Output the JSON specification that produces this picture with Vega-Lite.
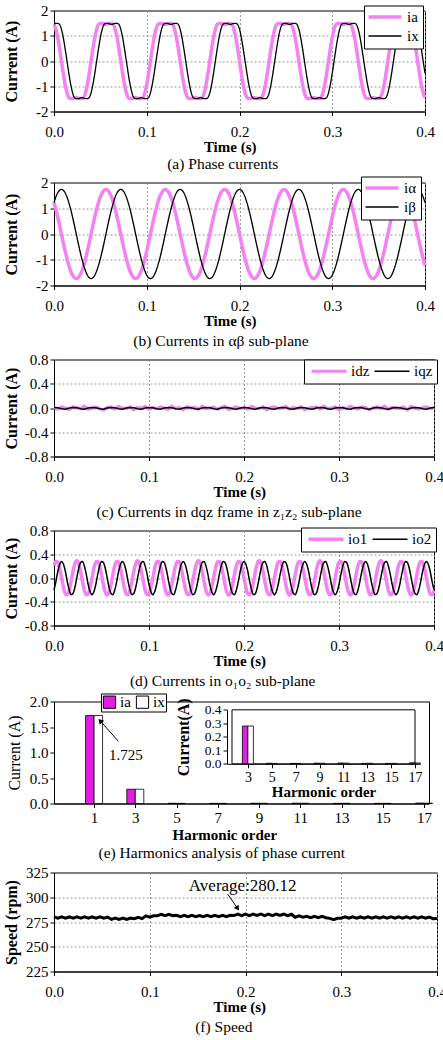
{
"$schema":"https://vega.github.io/schema/vega-lite/v6.json",
"background":"white",
"padding":{"left":2,"top":2.5,"right":0,"bottom":0},
"config":{
 "font":"Liberation Serif",
 "view":{"stroke":"black","strokeWidth":1},
 "axis":{"labelFont":"Liberation Serif","labelFontSize":15,"labelColor":"black","titleFont":"Liberation Serif","titleFontSize":15,"titleFontWeight":"bold","titleColor":"black","domainColor":"black","tickColor":"black","tickSize":4,"gridColor":"#808080","gridDash":[2,2],"gridWidth":0.8,"labelPadding":2,"labelFlush":false,"labelOverlap":false},
 "axisX":{"labelPadding":9,"titlePadding":0},
 "axisY":{"titleBaseline":"middle","titleFontSize":16},
 "legend":{"orient":"none","strokeColor":"black","fillColor":"white","padding":4,"labelFont":"Liberation Serif","labelFontSize":15,"labelColor":"black","symbolType":"M-3.3,0H3.3","symbolSize":100,"symbolOffset":9.5,"labelOffset":14.5,"rowPadding":3,"columnPadding":1,"cornerRadius":0},
 "title":{"orient":"bottom","anchor":"middle","font":"Liberation Serif","fontSize":15.5,"fontWeight":"normal","color":"black","offset":5}
},
"datasets":{
"w":[
{"t":0,"ia":1.45,"ix":1.47,"iα":1.22,"iβ":1.22,"io1":0.21,"io2":-0.2},
{"t":0.002,"ia":1.26,"ix":1.49,"iα":0.96,"iβ":1.44,"io1":0.28,"io2":-0.06},
{"t":0.004,"ia":0.93,"ix":1.49,"iα":0.66,"iβ":1.6,"io1":0.27,"io2":0.11},
{"t":0.006,"ia":0.49,"ix":1.45,"iα":0.34,"iβ":1.7,"io1":0.16,"io2":0.23},
{"t":0.008,"ia":0,"ix":1.26,"iα":0,"iβ":1.73,"io1":0,"io2":0.28},
{"t":0.01,"ia":-0.49,"ix":0.93,"iα":-0.34,"iβ":1.7,"io1":-0.16,"io2":0.23},
{"t":0.012,"ia":-0.93,"ix":0.49,"iα":-0.66,"iβ":1.6,"io1":-0.27,"io2":0.11},
{"t":0.014,"ia":-1.26,"ix":0,"iα":-0.96,"iβ":1.44,"io1":-0.28,"io2":-0.06},
{"t":0.016,"ia":-1.45,"ix":-0.49,"iα":-1.22,"iβ":1.22,"io1":-0.21,"io2":-0.2},
{"t":0.018,"ia":-1.49,"ix":-0.93,"iα":-1.44,"iβ":0.96,"io1":-0.06,"io2":-0.28},
{"t":0.02,"ia":-1.49,"ix":-1.26,"iα":-1.6,"iβ":0.66,"io1":0.11,"io2":-0.26},
{"t":0.022,"ia":-1.47,"ix":-1.45,"iα":-1.7,"iβ":0.34,"io1":0.24,"io2":-0.16},
{"t":0.024,"ia":-1.45,"ix":-1.49,"iα":-1.73,"iβ":0,"io1":0.29,"io2":0},
{"t":0.026,"ia":-1.47,"ix":-1.49,"iα":-1.7,"iβ":-0.34,"io1":0.24,"io2":0.16},
{"t":0.028,"ia":-1.49,"ix":-1.47,"iα":-1.6,"iβ":-0.66,"io1":0.11,"io2":0.26},
{"t":0.03,"ia":-1.49,"ix":-1.45,"iα":-1.44,"iβ":-0.96,"io1":-0.06,"io2":0.28},
{"t":0.032,"ia":-1.45,"ix":-1.47,"iα":-1.22,"iβ":-1.22,"io1":-0.21,"io2":0.2},
{"t":0.034,"ia":-1.26,"ix":-1.49,"iα":-0.96,"iβ":-1.44,"io1":-0.28,"io2":0.06},
{"t":0.036,"ia":-0.93,"ix":-1.49,"iα":-0.66,"iβ":-1.6,"io1":-0.27,"io2":-0.11},
{"t":0.038,"ia":-0.49,"ix":-1.45,"iα":-0.34,"iβ":-1.7,"io1":-0.16,"io2":-0.23},
{"t":0.04,"ia":0,"ix":-1.26,"iα":0,"iβ":-1.73,"io1":0,"io2":-0.28},
{"t":0.042,"ia":0.49,"ix":-0.93,"iα":0.34,"iβ":-1.7,"io1":0.16,"io2":-0.23},
{"t":0.044,"ia":0.93,"ix":-0.49,"iα":0.66,"iβ":-1.6,"io1":0.27,"io2":-0.11},
{"t":0.046,"ia":1.26,"ix":0,"iα":0.96,"iβ":-1.44,"io1":0.28,"io2":0.06},
{"t":0.048,"ia":1.45,"ix":0.49,"iα":1.22,"iβ":-1.22,"io1":0.21,"io2":0.2},
{"t":0.05,"ia":1.49,"ix":0.93,"iα":1.44,"iβ":-0.96,"io1":0.06,"io2":0.28},
{"t":0.052,"ia":1.49,"ix":1.26,"iα":1.6,"iβ":-0.66,"io1":-0.11,"io2":0.26},
{"t":0.054,"ia":1.47,"ix":1.45,"iα":1.7,"iβ":-0.34,"io1":-0.24,"io2":0.16},
{"t":0.056,"ia":1.45,"ix":1.49,"iα":1.73,"iβ":0,"io1":-0.29,"io2":0},
{"t":0.058,"ia":1.47,"ix":1.49,"iα":1.7,"iβ":0.34,"io1":-0.24,"io2":-0.16},
{"t":0.06,"ia":1.49,"ix":1.47,"iα":1.6,"iβ":0.66,"io1":-0.11,"io2":-0.26},
{"t":0.062,"ia":1.49,"ix":1.45,"iα":1.44,"iβ":0.96,"io1":0.06,"io2":-0.28},
{"t":0.064,"ia":1.45,"ix":1.47,"iα":1.22,"iβ":1.22,"io1":0.21,"io2":-0.2},
{"t":0.066,"ia":1.26,"ix":1.49,"iα":0.96,"iβ":1.44,"io1":0.28,"io2":-0.06},
{"t":0.068,"ia":0.93,"ix":1.49,"iα":0.66,"iβ":1.6,"io1":0.27,"io2":0.11},
{"t":0.07,"ia":0.49,"ix":1.45,"iα":0.34,"iβ":1.7,"io1":0.16,"io2":0.23},
{"t":0.072,"ia":0,"ix":1.26,"iα":0,"iβ":1.73,"io1":0,"io2":0.28},
{"t":0.074,"ia":-0.49,"ix":0.93,"iα":-0.34,"iβ":1.7,"io1":-0.16,"io2":0.23},
{"t":0.076,"ia":-0.93,"ix":0.49,"iα":-0.66,"iβ":1.6,"io1":-0.27,"io2":0.11},
{"t":0.078,"ia":-1.26,"ix":0,"iα":-0.96,"iβ":1.44,"io1":-0.28,"io2":-0.06},
{"t":0.08,"ia":-1.45,"ix":-0.49,"iα":-1.22,"iβ":1.22,"io1":-0.21,"io2":-0.2},
{"t":0.082,"ia":-1.49,"ix":-0.93,"iα":-1.44,"iβ":0.96,"io1":-0.06,"io2":-0.28},
{"t":0.084,"ia":-1.49,"ix":-1.26,"iα":-1.6,"iβ":0.66,"io1":0.11,"io2":-0.26},
{"t":0.086,"ia":-1.47,"ix":-1.45,"iα":-1.7,"iβ":0.34,"io1":0.24,"io2":-0.16},
{"t":0.088,"ia":-1.45,"ix":-1.49,"iα":-1.73,"iβ":0,"io1":0.29,"io2":0},
{"t":0.09,"ia":-1.47,"ix":-1.49,"iα":-1.7,"iβ":-0.34,"io1":0.24,"io2":0.16},
{"t":0.092,"ia":-1.49,"ix":-1.47,"iα":-1.6,"iβ":-0.66,"io1":0.11,"io2":0.26},
{"t":0.094,"ia":-1.49,"ix":-1.45,"iα":-1.44,"iβ":-0.96,"io1":-0.06,"io2":0.28},
{"t":0.096,"ia":-1.45,"ix":-1.47,"iα":-1.22,"iβ":-1.22,"io1":-0.21,"io2":0.2},
{"t":0.098,"ia":-1.26,"ix":-1.49,"iα":-0.96,"iβ":-1.44,"io1":-0.28,"io2":0.06},
{"t":0.1,"ia":-0.93,"ix":-1.49,"iα":-0.66,"iβ":-1.6,"io1":-0.27,"io2":-0.11},
{"t":0.102,"ia":-0.49,"ix":-1.45,"iα":-0.34,"iβ":-1.7,"io1":-0.16,"io2":-0.23},
{"t":0.104,"ia":0,"ix":-1.26,"iα":0,"iβ":-1.73,"io1":0,"io2":-0.28},
{"t":0.106,"ia":0.49,"ix":-0.93,"iα":0.34,"iβ":-1.7,"io1":0.16,"io2":-0.23},
{"t":0.108,"ia":0.93,"ix":-0.49,"iα":0.66,"iβ":-1.6,"io1":0.27,"io2":-0.11},
{"t":0.11,"ia":1.26,"ix":0,"iα":0.96,"iβ":-1.44,"io1":0.28,"io2":0.06},
{"t":0.112,"ia":1.45,"ix":0.49,"iα":1.22,"iβ":-1.22,"io1":0.21,"io2":0.2},
{"t":0.114,"ia":1.49,"ix":0.93,"iα":1.44,"iβ":-0.96,"io1":0.06,"io2":0.28},
{"t":0.116,"ia":1.49,"ix":1.26,"iα":1.6,"iβ":-0.66,"io1":-0.11,"io2":0.26},
{"t":0.118,"ia":1.47,"ix":1.45,"iα":1.7,"iβ":-0.34,"io1":-0.24,"io2":0.16},
{"t":0.12,"ia":1.45,"ix":1.49,"iα":1.73,"iβ":0,"io1":-0.29,"io2":0},
{"t":0.122,"ia":1.47,"ix":1.49,"iα":1.7,"iβ":0.34,"io1":-0.24,"io2":-0.16},
{"t":0.124,"ia":1.49,"ix":1.47,"iα":1.6,"iβ":0.66,"io1":-0.11,"io2":-0.26},
{"t":0.126,"ia":1.49,"ix":1.45,"iα":1.44,"iβ":0.96,"io1":0.06,"io2":-0.28},
{"t":0.128,"ia":1.45,"ix":1.47,"iα":1.22,"iβ":1.22,"io1":0.21,"io2":-0.2},
{"t":0.13,"ia":1.26,"ix":1.49,"iα":0.96,"iβ":1.44,"io1":0.28,"io2":-0.06},
{"t":0.132,"ia":0.93,"ix":1.49,"iα":0.66,"iβ":1.6,"io1":0.27,"io2":0.11},
{"t":0.134,"ia":0.49,"ix":1.45,"iα":0.34,"iβ":1.7,"io1":0.16,"io2":0.23},
{"t":0.136,"ia":0,"ix":1.26,"iα":0,"iβ":1.73,"io1":0,"io2":0.28},
{"t":0.138,"ia":-0.49,"ix":0.93,"iα":-0.34,"iβ":1.7,"io1":-0.16,"io2":0.23},
{"t":0.14,"ia":-0.93,"ix":0.49,"iα":-0.66,"iβ":1.6,"io1":-0.27,"io2":0.11},
{"t":0.142,"ia":-1.26,"ix":0,"iα":-0.96,"iβ":1.44,"io1":-0.28,"io2":-0.06},
{"t":0.144,"ia":-1.45,"ix":-0.49,"iα":-1.22,"iβ":1.22,"io1":-0.21,"io2":-0.2},
{"t":0.146,"ia":-1.49,"ix":-0.93,"iα":-1.44,"iβ":0.96,"io1":-0.06,"io2":-0.28},
{"t":0.148,"ia":-1.49,"ix":-1.26,"iα":-1.6,"iβ":0.66,"io1":0.11,"io2":-0.26},
{"t":0.15,"ia":-1.47,"ix":-1.45,"iα":-1.7,"iβ":0.34,"io1":0.24,"io2":-0.16},
{"t":0.152,"ia":-1.45,"ix":-1.49,"iα":-1.73,"iβ":0,"io1":0.29,"io2":0},
{"t":0.154,"ia":-1.47,"ix":-1.49,"iα":-1.7,"iβ":-0.34,"io1":0.24,"io2":0.16},
{"t":0.156,"ia":-1.49,"ix":-1.47,"iα":-1.6,"iβ":-0.66,"io1":0.11,"io2":0.26},
{"t":0.158,"ia":-1.49,"ix":-1.45,"iα":-1.44,"iβ":-0.96,"io1":-0.06,"io2":0.28},
{"t":0.16,"ia":-1.45,"ix":-1.47,"iα":-1.22,"iβ":-1.22,"io1":-0.21,"io2":0.2},
{"t":0.162,"ia":-1.26,"ix":-1.49,"iα":-0.96,"iβ":-1.44,"io1":-0.28,"io2":0.06},
{"t":0.164,"ia":-0.93,"ix":-1.49,"iα":-0.66,"iβ":-1.6,"io1":-0.27,"io2":-0.11},
{"t":0.166,"ia":-0.49,"ix":-1.45,"iα":-0.34,"iβ":-1.7,"io1":-0.16,"io2":-0.23},
{"t":0.168,"ia":0,"ix":-1.26,"iα":0,"iβ":-1.73,"io1":0,"io2":-0.28},
{"t":0.17,"ia":0.49,"ix":-0.93,"iα":0.34,"iβ":-1.7,"io1":0.16,"io2":-0.23},
{"t":0.172,"ia":0.93,"ix":-0.49,"iα":0.66,"iβ":-1.6,"io1":0.27,"io2":-0.11},
{"t":0.174,"ia":1.26,"ix":0,"iα":0.96,"iβ":-1.44,"io1":0.28,"io2":0.06},
{"t":0.176,"ia":1.45,"ix":0.49,"iα":1.22,"iβ":-1.22,"io1":0.21,"io2":0.2},
{"t":0.178,"ia":1.49,"ix":0.93,"iα":1.44,"iβ":-0.96,"io1":0.06,"io2":0.28},
{"t":0.18,"ia":1.49,"ix":1.26,"iα":1.6,"iβ":-0.66,"io1":-0.11,"io2":0.26},
{"t":0.182,"ia":1.47,"ix":1.45,"iα":1.7,"iβ":-0.34,"io1":-0.24,"io2":0.16},
{"t":0.184,"ia":1.45,"ix":1.49,"iα":1.73,"iβ":0,"io1":-0.29,"io2":0},
{"t":0.186,"ia":1.47,"ix":1.49,"iα":1.7,"iβ":0.34,"io1":-0.24,"io2":-0.16},
{"t":0.188,"ia":1.49,"ix":1.47,"iα":1.6,"iβ":0.66,"io1":-0.11,"io2":-0.26},
{"t":0.19,"ia":1.49,"ix":1.45,"iα":1.44,"iβ":0.96,"io1":0.06,"io2":-0.28},
{"t":0.192,"ia":1.45,"ix":1.47,"iα":1.22,"iβ":1.22,"io1":0.21,"io2":-0.2},
{"t":0.194,"ia":1.26,"ix":1.49,"iα":0.96,"iβ":1.44,"io1":0.28,"io2":-0.06},
{"t":0.196,"ia":0.93,"ix":1.49,"iα":0.66,"iβ":1.6,"io1":0.27,"io2":0.11},
{"t":0.198,"ia":0.49,"ix":1.45,"iα":0.34,"iβ":1.7,"io1":0.16,"io2":0.23},
{"t":0.2,"ia":0,"ix":1.26,"iα":0,"iβ":1.73,"io1":0,"io2":0.28},
{"t":0.202,"ia":-0.49,"ix":0.93,"iα":-0.34,"iβ":1.7,"io1":-0.16,"io2":0.23},
{"t":0.204,"ia":-0.93,"ix":0.49,"iα":-0.66,"iβ":1.6,"io1":-0.27,"io2":0.11},
{"t":0.206,"ia":-1.26,"ix":0,"iα":-0.96,"iβ":1.44,"io1":-0.28,"io2":-0.06},
{"t":0.208,"ia":-1.45,"ix":-0.49,"iα":-1.22,"iβ":1.22,"io1":-0.21,"io2":-0.2},
{"t":0.21,"ia":-1.49,"ix":-0.93,"iα":-1.44,"iβ":0.96,"io1":-0.06,"io2":-0.28},
{"t":0.212,"ia":-1.49,"ix":-1.26,"iα":-1.6,"iβ":0.66,"io1":0.11,"io2":-0.26},
{"t":0.214,"ia":-1.47,"ix":-1.45,"iα":-1.7,"iβ":0.34,"io1":0.24,"io2":-0.16},
{"t":0.216,"ia":-1.45,"ix":-1.49,"iα":-1.73,"iβ":0,"io1":0.29,"io2":0},
{"t":0.218,"ia":-1.47,"ix":-1.49,"iα":-1.7,"iβ":-0.34,"io1":0.24,"io2":0.16},
{"t":0.22,"ia":-1.49,"ix":-1.47,"iα":-1.6,"iβ":-0.66,"io1":0.11,"io2":0.26},
{"t":0.222,"ia":-1.49,"ix":-1.45,"iα":-1.44,"iβ":-0.96,"io1":-0.06,"io2":0.28},
{"t":0.224,"ia":-1.45,"ix":-1.47,"iα":-1.22,"iβ":-1.22,"io1":-0.21,"io2":0.2},
{"t":0.226,"ia":-1.26,"ix":-1.49,"iα":-0.96,"iβ":-1.44,"io1":-0.28,"io2":0.06},
{"t":0.228,"ia":-0.93,"ix":-1.49,"iα":-0.66,"iβ":-1.6,"io1":-0.27,"io2":-0.11},
{"t":0.23,"ia":-0.49,"ix":-1.45,"iα":-0.34,"iβ":-1.7,"io1":-0.16,"io2":-0.23},
{"t":0.232,"ia":0,"ix":-1.26,"iα":0,"iβ":-1.73,"io1":0,"io2":-0.28},
{"t":0.234,"ia":0.49,"ix":-0.93,"iα":0.34,"iβ":-1.7,"io1":0.16,"io2":-0.23},
{"t":0.236,"ia":0.93,"ix":-0.49,"iα":0.66,"iβ":-1.6,"io1":0.27,"io2":-0.11},
{"t":0.238,"ia":1.26,"ix":0,"iα":0.96,"iβ":-1.44,"io1":0.28,"io2":0.06},
{"t":0.24,"ia":1.45,"ix":0.49,"iα":1.22,"iβ":-1.22,"io1":0.21,"io2":0.2},
{"t":0.242,"ia":1.49,"ix":0.93,"iα":1.44,"iβ":-0.96,"io1":0.06,"io2":0.28},
{"t":0.244,"ia":1.49,"ix":1.26,"iα":1.6,"iβ":-0.66,"io1":-0.11,"io2":0.26},
{"t":0.246,"ia":1.47,"ix":1.45,"iα":1.7,"iβ":-0.34,"io1":-0.24,"io2":0.16},
{"t":0.248,"ia":1.45,"ix":1.49,"iα":1.73,"iβ":0,"io1":-0.29,"io2":0},
{"t":0.25,"ia":1.47,"ix":1.49,"iα":1.7,"iβ":0.34,"io1":-0.24,"io2":-0.16},
{"t":0.252,"ia":1.49,"ix":1.47,"iα":1.6,"iβ":0.66,"io1":-0.11,"io2":-0.26},
{"t":0.254,"ia":1.49,"ix":1.45,"iα":1.44,"iβ":0.96,"io1":0.06,"io2":-0.28},
{"t":0.256,"ia":1.45,"ix":1.47,"iα":1.22,"iβ":1.22,"io1":0.21,"io2":-0.2},
{"t":0.258,"ia":1.26,"ix":1.49,"iα":0.96,"iβ":1.44,"io1":0.28,"io2":-0.06},
{"t":0.26,"ia":0.93,"ix":1.49,"iα":0.66,"iβ":1.6,"io1":0.27,"io2":0.11},
{"t":0.262,"ia":0.49,"ix":1.45,"iα":0.34,"iβ":1.7,"io1":0.16,"io2":0.23},
{"t":0.264,"ia":0,"ix":1.26,"iα":0,"iβ":1.73,"io1":0,"io2":0.28},
{"t":0.266,"ia":-0.49,"ix":0.93,"iα":-0.34,"iβ":1.7,"io1":-0.16,"io2":0.23},
{"t":0.268,"ia":-0.93,"ix":0.49,"iα":-0.66,"iβ":1.6,"io1":-0.27,"io2":0.11},
{"t":0.27,"ia":-1.26,"ix":0,"iα":-0.96,"iβ":1.44,"io1":-0.28,"io2":-0.06},
{"t":0.272,"ia":-1.45,"ix":-0.49,"iα":-1.22,"iβ":1.22,"io1":-0.21,"io2":-0.2},
{"t":0.274,"ia":-1.49,"ix":-0.93,"iα":-1.44,"iβ":0.96,"io1":-0.06,"io2":-0.28},
{"t":0.276,"ia":-1.49,"ix":-1.26,"iα":-1.6,"iβ":0.66,"io1":0.11,"io2":-0.26},
{"t":0.278,"ia":-1.47,"ix":-1.45,"iα":-1.7,"iβ":0.34,"io1":0.24,"io2":-0.16},
{"t":0.28,"ia":-1.45,"ix":-1.49,"iα":-1.73,"iβ":0,"io1":0.29,"io2":0},
{"t":0.282,"ia":-1.47,"ix":-1.49,"iα":-1.7,"iβ":-0.34,"io1":0.24,"io2":0.16},
{"t":0.284,"ia":-1.49,"ix":-1.47,"iα":-1.6,"iβ":-0.66,"io1":0.11,"io2":0.26},
{"t":0.286,"ia":-1.49,"ix":-1.45,"iα":-1.44,"iβ":-0.96,"io1":-0.06,"io2":0.28},
{"t":0.288,"ia":-1.45,"ix":-1.47,"iα":-1.22,"iβ":-1.22,"io1":-0.21,"io2":0.2},
{"t":0.29,"ia":-1.26,"ix":-1.49,"iα":-0.96,"iβ":-1.44,"io1":-0.28,"io2":0.06},
{"t":0.292,"ia":-0.93,"ix":-1.49,"iα":-0.66,"iβ":-1.6,"io1":-0.27,"io2":-0.11},
{"t":0.294,"ia":-0.49,"ix":-1.45,"iα":-0.34,"iβ":-1.7,"io1":-0.16,"io2":-0.23},
{"t":0.296,"ia":0,"ix":-1.26,"iα":0,"iβ":-1.73,"io1":0,"io2":-0.28},
{"t":0.298,"ia":0.49,"ix":-0.93,"iα":0.34,"iβ":-1.7,"io1":0.16,"io2":-0.23},
{"t":0.3,"ia":0.93,"ix":-0.49,"iα":0.66,"iβ":-1.6,"io1":0.27,"io2":-0.11},
{"t":0.302,"ia":1.26,"ix":0,"iα":0.96,"iβ":-1.44,"io1":0.28,"io2":0.06},
{"t":0.304,"ia":1.45,"ix":0.49,"iα":1.22,"iβ":-1.22,"io1":0.21,"io2":0.2},
{"t":0.306,"ia":1.49,"ix":0.93,"iα":1.44,"iβ":-0.96,"io1":0.06,"io2":0.28},
{"t":0.308,"ia":1.49,"ix":1.26,"iα":1.6,"iβ":-0.66,"io1":-0.11,"io2":0.26},
{"t":0.31,"ia":1.47,"ix":1.45,"iα":1.7,"iβ":-0.34,"io1":-0.24,"io2":0.16},
{"t":0.312,"ia":1.45,"ix":1.49,"iα":1.73,"iβ":0,"io1":-0.29,"io2":0},
{"t":0.314,"ia":1.47,"ix":1.49,"iα":1.7,"iβ":0.34,"io1":-0.24,"io2":-0.16},
{"t":0.316,"ia":1.49,"ix":1.47,"iα":1.6,"iβ":0.66,"io1":-0.11,"io2":-0.26},
{"t":0.318,"ia":1.49,"ix":1.45,"iα":1.44,"iβ":0.96,"io1":0.06,"io2":-0.28},
{"t":0.32,"ia":1.45,"ix":1.47,"iα":1.22,"iβ":1.22,"io1":0.21,"io2":-0.2},
{"t":0.322,"ia":1.26,"ix":1.49,"iα":0.96,"iβ":1.44,"io1":0.28,"io2":-0.06},
{"t":0.324,"ia":0.93,"ix":1.49,"iα":0.66,"iβ":1.6,"io1":0.27,"io2":0.11},
{"t":0.326,"ia":0.49,"ix":1.45,"iα":0.34,"iβ":1.7,"io1":0.16,"io2":0.23},
{"t":0.328,"ia":0,"ix":1.26,"iα":0,"iβ":1.73,"io1":0,"io2":0.28},
{"t":0.33,"ia":-0.49,"ix":0.93,"iα":-0.34,"iβ":1.7,"io1":-0.16,"io2":0.23},
{"t":0.332,"ia":-0.93,"ix":0.49,"iα":-0.66,"iβ":1.6,"io1":-0.27,"io2":0.11},
{"t":0.334,"ia":-1.26,"ix":0,"iα":-0.96,"iβ":1.44,"io1":-0.28,"io2":-0.06},
{"t":0.336,"ia":-1.45,"ix":-0.49,"iα":-1.22,"iβ":1.22,"io1":-0.21,"io2":-0.2},
{"t":0.338,"ia":-1.49,"ix":-0.93,"iα":-1.44,"iβ":0.96,"io1":-0.06,"io2":-0.28},
{"t":0.34,"ia":-1.49,"ix":-1.26,"iα":-1.6,"iβ":0.66,"io1":0.11,"io2":-0.26},
{"t":0.342,"ia":-1.47,"ix":-1.45,"iα":-1.7,"iβ":0.34,"io1":0.24,"io2":-0.16},
{"t":0.344,"ia":-1.45,"ix":-1.49,"iα":-1.73,"iβ":0,"io1":0.29,"io2":0},
{"t":0.346,"ia":-1.47,"ix":-1.49,"iα":-1.7,"iβ":-0.34,"io1":0.24,"io2":0.16},
{"t":0.348,"ia":-1.49,"ix":-1.47,"iα":-1.6,"iβ":-0.66,"io1":0.11,"io2":0.26},
{"t":0.35,"ia":-1.49,"ix":-1.45,"iα":-1.44,"iβ":-0.96,"io1":-0.06,"io2":0.28},
{"t":0.352,"ia":-1.45,"ix":-1.47,"iα":-1.22,"iβ":-1.22,"io1":-0.21,"io2":0.2},
{"t":0.354,"ia":-1.26,"ix":-1.49,"iα":-0.96,"iβ":-1.44,"io1":-0.28,"io2":0.06},
{"t":0.356,"ia":-0.93,"ix":-1.49,"iα":-0.66,"iβ":-1.6,"io1":-0.27,"io2":-0.11},
{"t":0.358,"ia":-0.49,"ix":-1.45,"iα":-0.34,"iβ":-1.7,"io1":-0.16,"io2":-0.23},
{"t":0.36,"ia":0,"ix":-1.26,"iα":0,"iβ":-1.73,"io1":0,"io2":-0.28},
{"t":0.362,"ia":0.49,"ix":-0.93,"iα":0.34,"iβ":-1.7,"io1":0.16,"io2":-0.23},
{"t":0.364,"ia":0.93,"ix":-0.49,"iα":0.66,"iβ":-1.6,"io1":0.27,"io2":-0.11},
{"t":0.366,"ia":1.26,"ix":0,"iα":0.96,"iβ":-1.44,"io1":0.28,"io2":0.06},
{"t":0.368,"ia":1.45,"ix":0.49,"iα":1.22,"iβ":-1.22,"io1":0.21,"io2":0.2},
{"t":0.37,"ia":1.49,"ix":0.93,"iα":1.44,"iβ":-0.96,"io1":0.06,"io2":0.28},
{"t":0.372,"ia":1.49,"ix":1.26,"iα":1.6,"iβ":-0.66,"io1":-0.11,"io2":0.26},
{"t":0.374,"ia":1.47,"ix":1.45,"iα":1.7,"iβ":-0.34,"io1":-0.24,"io2":0.16},
{"t":0.376,"ia":1.45,"ix":1.49,"iα":1.73,"iβ":0,"io1":-0.29,"io2":0},
{"t":0.378,"ia":1.47,"ix":1.49,"iα":1.7,"iβ":0.34,"io1":-0.24,"io2":-0.16},
{"t":0.38,"ia":1.49,"ix":1.47,"iα":1.6,"iβ":0.66,"io1":-0.11,"io2":-0.26},
{"t":0.382,"ia":1.49,"ix":1.45,"iα":1.44,"iβ":0.96,"io1":0.06,"io2":-0.28},
{"t":0.384,"ia":1.45,"ix":1.47,"iα":1.22,"iβ":1.22,"io1":0.21,"io2":-0.2},
{"t":0.386,"ia":1.26,"ix":1.49,"iα":0.96,"iβ":1.44,"io1":0.28,"io2":-0.06},
{"t":0.388,"ia":0.93,"ix":1.49,"iα":0.66,"iβ":1.6,"io1":0.27,"io2":0.11},
{"t":0.39,"ia":0.49,"ix":1.45,"iα":0.34,"iβ":1.7,"io1":0.16,"io2":0.23},
{"t":0.392,"ia":0,"ix":1.26,"iα":0,"iβ":1.73,"io1":0,"io2":0.28},
{"t":0.394,"ia":-0.49,"ix":0.93,"iα":-0.34,"iβ":1.7,"io1":-0.16,"io2":0.23},
{"t":0.396,"ia":-0.93,"ix":0.49,"iα":-0.66,"iβ":1.6,"io1":-0.27,"io2":0.11},
{"t":0.398,"ia":-1.26,"ix":0,"iα":-0.96,"iβ":1.44,"io1":-0.28,"io2":-0.06},
{"t":0.4,"ia":-1.45,"ix":-0.49,"iα":-1.22,"iβ":1.22,"io1":-0.21,"io2":-0.2}
],
"cf":[
{"t":0,"idz":0.01,"iqz":0.01,"sp":280.2},
{"t":0.004,"idz":-0.02,"iqz":0.004,"sp":278.8},
{"t":0.008,"idz":0.02,"iqz":-0.012,"sp":280.2},
{"t":0.012,"idz":0,"iqz":-0.02,"sp":278.9},
{"t":0.016,"idz":-0.03,"iqz":0,"sp":280.1},
{"t":0.02,"idz":0.02,"iqz":0.01,"sp":278.8},
{"t":0.024,"idz":0.01,"iqz":0.004,"sp":280.3},
{"t":0.028,"idz":-0.01,"iqz":-0.012,"sp":278.9},
{"t":0.032,"idz":0.03,"iqz":-0.02,"sp":280.2},
{"t":0.036,"idz":-0.02,"iqz":0,"sp":278.8},
{"t":0.04,"idz":0,"iqz":0.01,"sp":280.1},
{"t":0.044,"idz":0.02,"iqz":0.004,"sp":278.9},
{"t":0.048,"idz":-0.01,"iqz":-0.012,"sp":280.2},
{"t":0.052,"idz":-0.03,"iqz":-0.02,"sp":278.8},
{"t":0.056,"idz":0.01,"iqz":0,"sp":280},
{"t":0.06,"idz":0.02,"iqz":0.01,"sp":277.6},
{"t":0.064,"idz":-0.02,"iqz":0.004,"sp":278.9},
{"t":0.068,"idz":0.03,"iqz":-0.012,"sp":277.5},
{"t":0.072,"idz":0,"iqz":-0.02,"sp":278.9},
{"t":0.076,"idz":-0.01,"iqz":0,"sp":277.6},
{"t":0.08,"idz":0.02,"iqz":0.01,"sp":278.9},
{"t":0.084,"idz":-0.03,"iqz":0.004,"sp":278.4},
{"t":0.088,"idz":0.01,"iqz":-0.012,"sp":279.7},
{"t":0.092,"idz":0,"iqz":-0.02,"sp":278.4},
{"t":0.096,"idz":0.03,"iqz":0,"sp":281.2},
{"t":0.1,"idz":-0.02,"iqz":0.01,"sp":279.8},
{"t":0.104,"idz":0.01,"iqz":0.004,"sp":281.2},
{"t":0.108,"idz":-0.01,"iqz":-0.012,"sp":281.3},
{"t":0.112,"idz":0.02,"iqz":-0.02,"sp":282.7},
{"t":0.116,"idz":0,"iqz":0,"sp":281.3},
{"t":0.12,"idz":-0.02,"iqz":0.01,"sp":282.7},
{"t":0.124,"idz":0.03,"iqz":0.004,"sp":281.3},
{"t":0.128,"idz":-0.01,"iqz":-0.012,"sp":281.7},
{"t":0.132,"idz":0.01,"iqz":-0.02,"sp":280.3},
{"t":0.136,"idz":-0.03,"iqz":0,"sp":281.7},
{"t":0.14,"idz":0.02,"iqz":0.01,"sp":280.3},
{"t":0.144,"idz":0,"iqz":0.004,"sp":281.7},
{"t":0.148,"idz":0.01,"iqz":-0.012,"sp":280.4},
{"t":0.152,"idz":-0.02,"iqz":-0.02,"sp":281.6},
{"t":0.156,"idz":0.03,"iqz":0,"sp":280.3},
{"t":0.16,"idz":-0.01,"iqz":0.01,"sp":281.7},
{"t":0.164,"idz":0,"iqz":0.004,"sp":280.3},
{"t":0.168,"idz":0.02,"iqz":-0.012,"sp":281.7},
{"t":0.172,"idz":-0.02,"iqz":-0.02,"sp":280.4},
{"t":0.176,"idz":0.01,"iqz":0,"sp":281.8},
{"t":0.18,"idz":0.03,"iqz":0.01,"sp":280.4},
{"t":0.184,"idz":-0.03,"iqz":0.004,"sp":281.8},
{"t":0.188,"idz":0,"iqz":-0.012,"sp":281.5},
{"t":0.192,"idz":0.02,"iqz":-0.02,"sp":282.9},
{"t":0.196,"idz":-0.01,"iqz":0,"sp":281.5},
{"t":0.2,"idz":0.01,"iqz":0.01,"sp":282.9},
{"t":0.204,"idz":-0.02,"iqz":0.004,"sp":281.5},
{"t":0.208,"idz":0.03,"iqz":-0.012,"sp":282.9},
{"t":0.212,"idz":0,"iqz":-0.02,"sp":281.6},
{"t":0.216,"idz":-0.01,"iqz":0,"sp":282.9},
{"t":0.22,"idz":0.02,"iqz":0.01,"sp":281.5},
{"t":0.224,"idz":-0.03,"iqz":0.004,"sp":282.9},
{"t":0.228,"idz":0.01,"iqz":-0.012,"sp":281.5},
{"t":0.232,"idz":0.02,"iqz":-0.02,"sp":282.9},
{"t":0.236,"idz":-0.01,"iqz":0,"sp":281.6},
{"t":0.24,"idz":0,"iqz":0.01,"sp":282.9},
{"t":0.244,"idz":0.03,"iqz":0.004,"sp":281.5},
{"t":0.248,"idz":-0.02,"iqz":-0.012,"sp":282.8},
{"t":0.252,"idz":0.01,"iqz":-0.02,"sp":279.8},
{"t":0.256,"idz":-0.01,"iqz":0,"sp":281.2},
{"t":0.26,"idz":0.02,"iqz":0.01,"sp":279.8},
{"t":0.264,"idz":-0.03,"iqz":0.004,"sp":280.7},
{"t":0.268,"idz":0,"iqz":-0.012,"sp":279.3},
{"t":0.272,"idz":0.01,"iqz":-0.02,"sp":280.7},
{"t":0.276,"idz":0.02,"iqz":0,"sp":279.3},
{"t":0.28,"idz":-0.02,"iqz":0.01,"sp":280.7},
{"t":0.284,"idz":0.03,"iqz":0.004,"sp":279.3},
{"t":0.288,"idz":-0.01,"iqz":-0.012,"sp":278.7},
{"t":0.292,"idz":0,"iqz":-0.02,"sp":277.3},
{"t":0.296,"idz":0.02,"iqz":0,"sp":278.7},
{"t":0.3,"idz":-0.03,"iqz":0.01,"sp":278.8},
{"t":0.304,"idz":0.01,"iqz":0.004,"sp":280.2},
{"t":0.308,"idz":-0.01,"iqz":-0.012,"sp":278.8},
{"t":0.312,"idz":0.03,"iqz":-0.02,"sp":280.2},
{"t":0.316,"idz":0,"iqz":0,"sp":278.9},
{"t":0.32,"idz":-0.02,"iqz":0.01,"sp":280.1},
{"t":0.324,"idz":0.02,"iqz":0.004,"sp":278.8},
{"t":0.328,"idz":0.01,"iqz":-0.012,"sp":280.2},
{"t":0.332,"idz":-0.03,"iqz":-0.02,"sp":278.9},
{"t":0.336,"idz":0,"iqz":0,"sp":280.2},
{"t":0.34,"idz":0.02,"iqz":0.01,"sp":278.8},
{"t":0.344,"idz":-0.01,"iqz":0.004,"sp":280.1},
{"t":0.348,"idz":0.03,"iqz":-0.012,"sp":278.8},
{"t":0.352,"idz":-0.02,"iqz":-0.02,"sp":280.2},
{"t":0.356,"idz":0.01,"iqz":0,"sp":278.9},
{"t":0.36,"idz":0,"iqz":0.01,"sp":280.2},
{"t":0.364,"idz":-0.01,"iqz":0.004,"sp":278.8},
{"t":0.368,"idz":0.02,"iqz":-0.012,"sp":280.1},
{"t":0.372,"idz":-0.03,"iqz":-0.02,"sp":278.8},
{"t":0.376,"idz":0.03,"iqz":0,"sp":280.2},
{"t":0.38,"idz":0,"iqz":0.01,"sp":278.9},
{"t":0.384,"idz":-0.02,"iqz":0.004,"sp":280.2},
{"t":0.388,"idz":0.01,"iqz":-0.012,"sp":278.8},
{"t":0.392,"idz":0.02,"iqz":-0.02,"sp":279.9},
{"t":0.396,"idz":-0.01,"iqz":0,"sp":278.3},
{"t":0.4,"idz":0,"iqz":0.01,"sp":278.5}
],
"harm":[
{"h":1,"s":"ia","v":1.725},{"h":1,"s":"ix","v":1.725},
{"h":3,"s":"ia","v":0.28},{"h":3,"s":"ix","v":0.28},
{"h":5,"s":"ia","v":0.004},{"h":5,"s":"ix","v":0.003},
{"h":7,"s":"ia","v":0.003},{"h":7,"s":"ix","v":0.003},
{"h":9,"s":"ia","v":0.005},{"h":9,"s":"ix","v":0.004},
{"h":11,"s":"ia","v":0.006},{"h":11,"s":"ix","v":0.005},
{"h":13,"s":"ia","v":0.003},{"h":13,"s":"ix","v":0.004},
{"h":15,"s":"ia","v":0.003},{"h":15,"s":"ix","v":0.003},
{"h":17,"s":"ia","v":0.008},{"h":17,"s":"ix","v":0.006}
]
},
"vconcat":[
{
 "width":371,"height":101,
 "title":{"text":"(a) Phase currents","dx":-16.8,"offset":2},
 "data":{"name":"w"},
 "transform":[{"fold":["ia","ix"],"as":["s","v"]}],
 "mark":{"type":"line","interpolate":"monotone"},
 "encoding":{
  "x":{"field":"t","type":"quantitative","scale":{"domain":[0,0.4],"nice":false,"zero":false},"axis":{"title":"Time (s)","values":[0,0.1,0.2,0.3,0.4],"format":".1f","titleX":175.7}},
  "y":{"field":"v","type":"quantitative","scale":{"domain":[-2,2],"nice":false},"axis":{"title":"Current (A)","values":[-2,-1,0,1,2],"labelExpr":"datum.value < 0 ? '-' + format(-datum.value, 'd') : format(datum.value, 'd')","titleX":-43}},
  "color":{"field":"s","type":"nominal","scale":{"domain":["ia","ix"],"range":["#f283f0","#000000"]},"legend":{"title":null,"legendX":310,"legendY":-5,"direction":"vertical"}},
  "strokeWidth":{"field":"s","type":"nominal","scale":{"domain":["ia","ix"],"range":[3.5,1.3]},"legend":{"title":null,"legendX":310,"legendY":-5,"direction":"vertical"}}
 }
},
{
 "width":371,"height":103,
 "title":{"text":"(b) Currents in αβ sub-plane","dx":-18.5,"offset":5},
 "data":{"name":"w"},
 "transform":[{"fold":["iα","iβ"],"as":["s","v"]}],
 "mark":{"type":"line","interpolate":"monotone"},
 "encoding":{
  "x":{"field":"t","type":"quantitative","scale":{"domain":[0,0.4],"nice":false,"zero":false},"axis":{"title":"Time (s)","values":[0,0.1,0.2,0.3,0.4],"format":".1f","titleX":175.7}},
  "y":{"field":"v","type":"quantitative","scale":{"domain":[-2,2],"nice":false},"axis":{"title":"Current (A)","values":[-2,-1,0,1,2],"labelExpr":"datum.value < 0 ? '-' + format(-datum.value, 'd') : format(datum.value, 'd')","titleX":-43}},
  "color":{"field":"s","type":"nominal","scale":{"domain":["iα","iβ"],"range":["#f283f0","#000000"]},"legend":{"title":null,"legendX":307,"legendY":-6,"direction":"vertical"}},
  "strokeWidth":{"field":"s","type":"nominal","scale":{"domain":["iα","iβ"],"range":[3.5,1.3]},"legend":{"title":null,"legendX":307,"legendY":-6,"direction":"vertical"}}
 }
},
{
 "width":380,"height":97,
 "title":{"text":"(c) Currents in dqz frame in z₁z₂ sub-plane","dx":-15,"offset":5},
 "data":{"name":"cf"},
 "transform":[{"fold":["idz","iqz"],"as":["s","v"]}],
 "mark":{"type":"line","interpolate":"linear"},
 "encoding":{
  "x":{"field":"t","type":"quantitative","scale":{"domain":[0,0.4],"nice":false,"zero":false},"axis":{"title":"Time (s)","values":[0,0.1,0.2,0.3,0.4],"format":".1f","titleX":185.3}},
  "y":{"field":"v","type":"quantitative","scale":{"domain":[-0.8,0.8],"nice":false},"axis":{"title":"Current (A)","values":[-0.8,-0.4,0,0.4,0.8],"labelExpr":"datum.value < 0 ? '-' + format(-datum.value, '.1f') : format(datum.value, '.1f')","titleX":-43}},
  "color":{"field":"s","type":"nominal","scale":{"domain":["idz","iqz"],"range":["#f283f0","#000000"]},"legend":{"title":null,"legendX":250,"legendY":0,"direction":"horizontal","symbolType":"M-3.5,0H3.5","symbolOffset":13.5,"labelOffset":14.5,"padding":4}},
  "strokeWidth":{"field":"s","type":"nominal","scale":{"domain":["idz","iqz"],"range":[3,1.5]},"legend":{"title":null,"legendX":250,"legendY":0,"direction":"horizontal","symbolType":"M-3.5,0H3.5","symbolOffset":13.5,"labelOffset":14.5,"padding":4}}
 }
},
{
 "width":380,"height":95,
 "title":{"text":"(d) Currents in o₁o₂ sub-plane","dx":-21.3,"offset":5.5},
 "data":{"name":"w"},
 "transform":[{"fold":["io1","io2"],"as":["s","v"]}],
 "mark":{"type":"line","interpolate":"monotone"},
 "encoding":{
  "x":{"field":"t","type":"quantitative","scale":{"domain":[0,0.4],"nice":false,"zero":false},"axis":{"title":"Time (s)","values":[0,0.1,0.2,0.3,0.4],"format":".1f","titleX":185.3}},
  "y":{"field":"v","type":"quantitative","scale":{"domain":[-0.8,0.8],"nice":false},"axis":{"title":"Current (A)","values":[-0.8,-0.4,0,0.4,0.8],"labelExpr":"datum.value < 0 ? '-' + format(-datum.value, '.1f') : format(datum.value, '.1f')","titleX":-43}},
  "color":{"field":"s","type":"nominal","scale":{"domain":["io1","io2"],"range":["#f283f0","#000000"]},"legend":{"title":null,"legendX":247,"legendY":-3,"direction":"horizontal","symbolType":"M-3.5,0H3.5","symbolOffset":13.5,"labelOffset":14.5,"padding":4}},
  "strokeWidth":{"field":"s","type":"nominal","scale":{"domain":["io1","io2"],"range":[3.5,1.5]},"legend":{"title":null,"legendX":247,"legendY":-3,"direction":"horizontal","symbolType":"M-3.5,0H3.5","symbolOffset":13.5,"labelOffset":14.5,"padding":4}}
 }
},
{
 "width":375,"height":102,
 "title":{"text":"(e) Harmonics analysis of phase current","dx":-19.7,"offset":3.5},
 "layer":[
  {"data":{"name":"harm"},
   "layer":[
    {"transform":[{"filter":"datum.s === 'ia'"}],
     "mark":{"type":"bar","orient":"vertical","width":8.5,"xOffset":-4.25,"stroke":"black","strokeWidth":0.8},
     "encoding":{
      "x":{"field":"h","type":"quantitative","scale":{"domain":[-0.7,17],"nice":false,"zero":false},"axis":{"title":"Harmonic order","values":[1,3,5,7,9,11,13,15,17],"grid":false,"labelOverlap":false,"titleX":170.3,"labelPadding":3,"titlePadding":2}},
      "y":{"field":"v","type":"quantitative","scale":{"domain":[0,2],"nice":false},"axis":{"title":"Current (A)","values":[0,0.5,1,1.5,2],"format":".1f","grid":false,"labelOverlap":false,"titleFontWeight":"normal","titleX":-40}},
      "fill":{"field":"s","type":"nominal","scale":{"domain":["ia","ix"],"range":["#e020e0","#ffffff"]},"legend":{"title":null,"legendX":47,"legendY":-8,"direction":"horizontal","symbolType":"square","symbolSize":150,"symbolOffset":0,"labelOffset":3,"columnPadding":3,"symbolStrokeColor":"black","symbolStrokeWidth":1,"padding":1}}
     }},
    {"transform":[{"filter":"datum.s === 'ix'"}],
     "mark":{"type":"bar","orient":"vertical","width":8.5,"xOffset":4.25,"stroke":"black","strokeWidth":0.8},
     "encoding":{
      "x":{"field":"h","type":"quantitative","axis":{"title":"Harmonic order","values":[1,3,5,7,9,11,13,15,17],"grid":false,"labelOverlap":false,"titleX":170.3,"labelPadding":3,"titlePadding":2}},
      "y":{"field":"v","type":"quantitative","axis":{"title":"Current (A)","values":[0,0.5,1,1.5,2],"format":".1f","grid":false,"labelOverlap":false,"titleFontWeight":"normal","titleX":-40}},
      "fill":{"field":"s","type":"nominal"}
     }},
    {"data":{"values":[{}]},"mark":{"type":"rule","color":"black","strokeWidth":1},
     "encoding":{"x":{"datum":2.18,"axis":{"title":"Harmonic order","values":[1,3,5,7,9,11,13,15,17],"grid":false,"labelOverlap":false,"titleX":170.3,"labelPadding":3,"titlePadding":2}},"y":{"datum":1.22,"axis":{"title":"Current (A)","values":[0,0.5,1,1.5,2],"format":".1f","grid":false,"labelOverlap":false,"titleFontWeight":"normal","titleX":-40}},"x2":{"datum":1.3},"y2":{"datum":1.62}}},
    {"data":{"values":[{}]},"mark":{"type":"point","shape":"triangle-up","angle":318,"size":35,"filled":true,"color":"black","opacity":1},
     "encoding":{"x":{"datum":1.3,"axis":{"title":"Harmonic order","values":[1,3,5,7,9,11,13,15,17],"grid":false,"labelOverlap":false,"titleX":170.3,"labelPadding":3,"titlePadding":2}},"y":{"datum":1.62,"axis":{"title":"Current (A)","values":[0,0.5,1,1.5,2],"format":".1f","grid":false,"labelOverlap":false,"titleFontWeight":"normal","titleX":-40}}}},
    {"data":{"values":[{}]},"mark":{"type":"text","text":"1.725","fontSize":15,"font":"Liberation Serif","color":"black"},
     "encoding":{"x":{"datum":2.54,"axis":{"title":"Harmonic order","values":[1,3,5,7,9,11,13,15,17],"grid":false,"labelOverlap":false,"titleX":170.3,"labelPadding":3,"titlePadding":2}},"y":{"datum":0.955,"axis":{"title":"Current (A)","values":[0,0.5,1,1.5,2],"format":".1f","grid":false,"labelOverlap":false,"titleFontWeight":"normal","titleX":-40}}}}
   ]},
  {"layer":[
    {"data":{"values":[{}]},"mark":{"type":"rect","fill":"white","stroke":"black","strokeWidth":1},
     "encoding":{
      "x":{"datum":1.67,"type":"quantitative","scale":{"domain":[1.67,17],"range":[173,366],"nice":false,"zero":false},"axis":{"orient":"bottom","offset":-39.7,"title":"Harmonic order","values":[3,5,7,9,11,13,15,17],"grid":false,"labelOverlap":false,"labelFontSize":14,"labelPadding":3,"titlePadding":0}},
      "x2":{"datum":17},
      "y":{"datum":0,"type":"quantitative","scale":{"domain":[0,0.4],"range":[62.3,8.3],"nice":false},"axis":{"orient":"left","offset":-173,"title":"Current(A)","values":[0,0.1,0.2,0.3,0.4],"format":".1f","grid":false,"labelOverlap":false,"labelFontSize":13.5,"titleX":-44}},
      "y2":{"datum":0.4}
     }},
    {"data":{"name":"harm"},"transform":[{"filter":"datum.s === 'ia' && datum.h >= 3"}],
     "mark":{"type":"bar","orient":"vertical","width":5.5,"xOffset":-2.75,"fill":"#e020e0","stroke":"black","strokeWidth":0.8},
     "encoding":{"x":{"field":"h","type":"quantitative","axis":{"orient":"bottom","offset":-39.7,"title":"Harmonic order","values":[3,5,7,9,11,13,15,17],"grid":false,"labelOverlap":false,"labelFontSize":14,"labelPadding":3,"titlePadding":0}},"y":{"field":"v","type":"quantitative","axis":{"orient":"left","offset":-173,"title":"Current(A)","values":[0,0.1,0.2,0.3,0.4],"format":".1f","grid":false,"labelOverlap":false,"labelFontSize":13.5,"titleX":-44}}}},
    {"data":{"name":"harm"},"transform":[{"filter":"datum.s === 'ix' && datum.h >= 3"}],
     "mark":{"type":"bar","orient":"vertical","width":5.5,"xOffset":2.75,"fill":"white","stroke":"black","strokeWidth":0.8},
     "encoding":{"x":{"field":"h","type":"quantitative","axis":{"orient":"bottom","offset":-39.7,"title":"Harmonic order","values":[3,5,7,9,11,13,15,17],"grid":false,"labelOverlap":false,"labelFontSize":14,"labelPadding":3,"titlePadding":0}},"y":{"field":"v","type":"quantitative","axis":{"orient":"left","offset":-173,"title":"Current(A)","values":[0,0.1,0.2,0.3,0.4],"format":".1f","grid":false,"labelOverlap":false,"labelFontSize":13.5,"titleX":-44}}}}
  ]}
 ],
 "resolve":{"scale":{"x":"independent","y":"independent"}}
},
{
 "width":383,"height":99,
 "title":{"text":"(f) Speed","dx":-21.7,"offset":5},
 "layer":[
  {"data":{"name":"cf"},"mark":{"type":"line","color":"black","strokeWidth":3,"interpolate":"linear"},
   "encoding":{
    "x":{"field":"t","type":"quantitative","scale":{"domain":[0,0.4],"nice":false,"zero":false},"axis":{"title":"Time (s)","values":[0,0.1,0.2,0.3,0.4],"format":".1f","titleX":185.3,"labelOverlap":false}},
    "y":{"field":"sp","type":"quantitative","scale":{"domain":[225,325],"nice":false,"zero":false},"axis":{"title":"Speed (rpm)","values":[225,250,275,300,325],"labelOverlap":false,"titleX":-43}}
   }},
  {"data":{"values":[{}]},"mark":{"type":"rule","color":"black","strokeWidth":1},
   "encoding":{"x":{"datum":0.1814,"axis":{"title":"Time (s)","values":[0,0.1,0.2,0.3,0.4],"format":".1f","titleX":185.3,"labelOverlap":false}},"y":{"datum":303.1,"axis":{"title":"Speed (rpm)","values":[225,250,275,300,325],"labelOverlap":false,"titleX":-43}},"x2":{"datum":0.1918},"y2":{"datum":288.7}}},
  {"data":{"values":[{}]},"mark":{"type":"point","shape":"triangle-up","angle":145,"size":35,"filled":true,"color":"black","opacity":1},
   "encoding":{"x":{"datum":0.1918,"axis":{"title":"Time (s)","values":[0,0.1,0.2,0.3,0.4],"format":".1f","titleX":185.3,"labelOverlap":false}},"y":{"datum":288.7,"axis":{"title":"Speed (rpm)","values":[225,250,275,300,325],"labelOverlap":false,"titleX":-43}}}},
  {"data":{"values":[{}]},"mark":{"type":"text","text":"Average:280.12","fontSize":17,"font":"Liberation Serif","color":"black"},
   "encoding":{"x":{"datum":0.1971,"axis":{"title":"Time (s)","values":[0,0.1,0.2,0.3,0.4],"format":".1f","titleX":185.3,"labelOverlap":false}},"y":{"datum":311.5,"axis":{"title":"Speed (rpm)","values":[225,250,275,300,325],"labelOverlap":false,"titleX":-43}}}}
 ]
}
],
"spacing":2,
"resolve":{"scale":{"color":"independent","strokeWidth":"independent","fill":"independent"}}
}
